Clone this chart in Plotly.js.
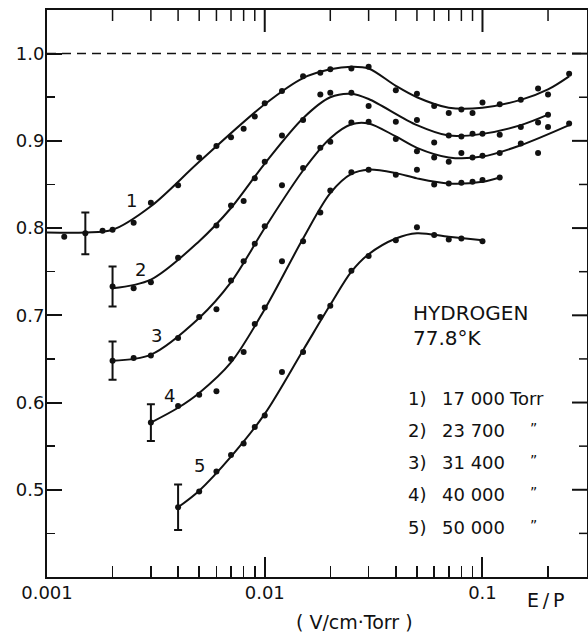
<!DOCTYPE html>
<html>
<head>
<meta charset="utf-8">
<script src="https://cdn.plot.ly/plotly-3.0.1.min.js"></script>
<style>html,body{margin:0;padding:0;background:#fff;}#chart{width:588px;height:637px;}</style>
</head>
<body>
<div id="chart"></div>
<script>
// ---- measured points (dots) ----
const x1 = [0.0012, 0.0018, 0.002, 0.0025, 0.003, 0.004, 0.005, 0.006, 0.007, 0.008, 0.009, 0.01, 0.012, 0.015, 0.018, 0.02, 0.025, 0.03, 0.04, 0.05, 0.06, 0.07, 0.08, 0.09, 0.1, 0.12, 0.15, 0.18, 0.2, 0.25];
const y1 = [0.790, 0.797, 0.798, 0.806, 0.829, 0.849, 0.881, 0.894, 0.904, 0.914, 0.928, 0.943, 0.957, 0.974, 0.978, 0.982, 0.983, 0.985, 0.958, 0.954, 0.940, 0.932, 0.936, 0.932, 0.944, 0.942, 0.947, 0.960, 0.953, 0.977];

const x2 = [0.0025, 0.003, 0.004, 0.006, 0.007, 0.008, 0.009, 0.01, 0.012, 0.015, 0.018, 0.02, 0.025, 0.03, 0.04, 0.05, 0.06, 0.07, 0.08, 0.09, 0.1, 0.12, 0.15, 0.18, 0.2, 0.2];
const y2 = [0.731, 0.738, 0.766, 0.803, 0.826, 0.831, 0.857, 0.876, 0.906, 0.924, 0.953, 0.955, 0.955, 0.940, 0.922, 0.924, 0.898, 0.906, 0.905, 0.908, 0.908, 0.907, 0.916, 0.921, 0.930, 0.916];

const x3 = [0.0025, 0.003, 0.004, 0.005, 0.006, 0.007, 0.008, 0.009, 0.01, 0.012, 0.015, 0.018, 0.02, 0.025, 0.03, 0.04, 0.05, 0.06, 0.07, 0.08, 0.09, 0.1, 0.12, 0.15, 0.18, 0.25];
const y3 = [0.651, 0.654, 0.674, 0.698, 0.707, 0.740, 0.762, 0.782, 0.802, 0.849, 0.869, 0.892, 0.899, 0.921, 0.922, 0.902, 0.888, 0.881, 0.876, 0.886, 0.881, 0.883, 0.886, 0.897, 0.886, 0.920];

const x4 = [0.004, 0.005, 0.006, 0.007, 0.008, 0.009, 0.01, 0.012, 0.015, 0.018, 0.02, 0.025, 0.03, 0.04, 0.05, 0.06, 0.07, 0.08, 0.09, 0.1, 0.12];
const y4 = [0.596, 0.609, 0.613, 0.650, 0.658, 0.690, 0.709, 0.762, 0.785, 0.818, 0.843, 0.864, 0.867, 0.861, 0.867, 0.850, 0.851, 0.852, 0.853, 0.855, 0.858];

const x5 = [0.005, 0.006, 0.007, 0.008, 0.009, 0.01, 0.012, 0.015, 0.018, 0.02, 0.025, 0.03, 0.04, 0.05, 0.06, 0.07, 0.08, 0.1];
const y5 = [0.498, 0.521, 0.540, 0.553, 0.572, 0.585, 0.635, 0.658, 0.698, 0.711, 0.751, 0.768, 0.786, 0.801, 0.792, 0.787, 0.788, 0.785];

// ---- starting points with error bars ----
const errX = [0.0015, 0.002, 0.002, 0.003, 0.004];
const errY = [0.794, 0.733, 0.648, 0.577, 0.480];
const errSize = [0.024, 0.023, 0.022, 0.021, 0.026];

// ---- smooth fitted curves ----
const f1x = [0.001, 0.0015, 0.002, 0.003, 0.005, 0.01, 0.015, 0.02, 0.025, 0.03, 0.04, 0.05, 0.07, 0.1, 0.15, 0.2, 0.25];
const f1y = [0.795, 0.795, 0.798, 0.825, 0.876, 0.942, 0.972, 0.982, 0.985, 0.983, 0.963, 0.950, 0.938, 0.938, 0.947, 0.959, 0.974];
const f2x = [0.002, 0.003, 0.005, 0.007, 0.01, 0.015, 0.02, 0.025, 0.03, 0.05, 0.07, 0.1, 0.15, 0.2];
const f2y = [0.731, 0.741, 0.785, 0.823, 0.874, 0.926, 0.950, 0.954, 0.948, 0.918, 0.906, 0.908, 0.918, 0.930];
const f3x = [0.002, 0.003, 0.005, 0.007, 0.01, 0.015, 0.02, 0.025, 0.03, 0.04, 0.05, 0.07, 0.1, 0.15, 0.25];
const f3y = [0.648, 0.655, 0.697, 0.738, 0.800, 0.866, 0.903, 0.919, 0.920, 0.905, 0.892, 0.881, 0.882, 0.895, 0.918];
const f4x = [0.003, 0.004, 0.005, 0.007, 0.01, 0.015, 0.02, 0.025, 0.03, 0.04, 0.05, 0.07, 0.1, 0.12];
const f4y = [0.577, 0.594, 0.611, 0.646, 0.707, 0.788, 0.840, 0.862, 0.867, 0.863, 0.857, 0.851, 0.853, 0.858];
const f5x = [0.004, 0.005, 0.007, 0.01, 0.015, 0.02, 0.025, 0.03, 0.04, 0.05, 0.07, 0.1];
const f5y = [0.480, 0.499, 0.538, 0.587, 0.660, 0.712, 0.750, 0.770, 0.788, 0.794, 0.790, 0.786];

// ---- curve labels ----
const curveLabels = ["1", "2", "3", "4", "5"];
const curveLabelX = [0.00245, 0.00269, 0.00319, 0.00366, 0.00502];
const curveLabelY = [0.832, 0.753, 0.677, 0.608, 0.528];

// ---- axes / ticks ----
const xRange = [0.001, 0.302];
const yRange = [0.4, 1.05];
const xTickVals = [0.001, 0.01, 0.1];
const xTickText = ["0.001", "0.01", "0.1"];
const xMinorVals = [0.002, 0.003, 0.004, 0.005, 0.006, 0.007, 0.008, 0.009, 0.02, 0.03, 0.04, 0.05, 0.06, 0.07, 0.08, 0.09, 0.2];
const yTickVals = [0.5, 0.6, 0.7, 0.8, 0.9, 1.0];
const yMinorVals = [0.45, 0.55, 0.65, 0.75, 0.85, 0.95];
const refLevel = 1.0;

// ---- legend text ----
const gasName = "HYDROGEN";
const gasTemp = "77.8°K";
const legendIdx = ["1)", "2)", "3)", "4)", "5)"];
const legendPressure = ["17 000", "23 700", "31 400", "40 000", "50 000"];
const legendUnit = ["Torr", "\u201D", "\u201D", "\u201D", "\u201D"];

const FONT = "'DejaVu Sans', 'Liberation Sans', sans-serif";
const INK = "#111111";

const W = 588, H = 637;
const M = {l: 47, r: 1, t: 10, b: 60};
const plotW = W - M.l - M.r, plotH = H - M.t - M.b;
const logRange = [Math.log10(xRange[0]), Math.log10(xRange[1])];
const yPerPx = (yRange[1] - yRange[0]) / plotH;
const decPerPx = (logRange[1] - logRange[0]) / plotW;

const dotStyle = {size: 6, color: INK};
const lineStyle = {color: INK, width: 2, shape: 'spline', smoothing: 0.9};

const fits = [[f1x,f1y],[f2x,f2y],[f3x,f3y],[f4x,f4y],[f5x,f5y]];
const dots = [[x1,y1],[x2,y2],[x3,y3],[x4,y4],[x5,y5]];

const traces = [];
fits.forEach(f => traces.push({x: f[0], y: f[1], mode: 'lines', line: lineStyle, hoverinfo: 'skip'}));
dots.forEach(d => traces.push({x: d[0], y: d[1], mode: 'markers', marker: dotStyle}));
traces.push({
  x: errX, y: errY, mode: 'markers', marker: dotStyle,
  error_y: {type: 'data', array: errSize, visible: true, color: INK, thickness: 2, width: 4}
});

// mirrored tick marks on the top and right frame (axis decoration built from the tick arrays)
function topTicks(vals, lenPx, width){
  const xs = [], ys = [];
  vals.forEach(v => { xs.push(v, v, null); ys.push(yRange[1], yRange[1] - lenPx * yPerPx, null); });
  return {x: xs, y: ys, mode: 'lines', line: {color: INK, width: width}, hoverinfo: 'skip', cliponaxis: false};
}
function rightTicks(vals, lenPx, width){
  const xs = [], ys = [];
  const inner = Math.pow(10, logRange[1] - lenPx * decPerPx);
  vals.forEach(v => { xs.push(xRange[1], inner, null); ys.push(v, v, null); });
  return {x: xs, y: ys, mode: 'lines', line: {color: INK, width: width}, hoverinfo: 'skip', cliponaxis: false};
}
traces.push(topTicks(xTickVals.slice(1), 22, 2));
traces.push(topTicks(xMinorVals, 11, 1.5));
traces.push(rightTicks(yTickVals, 15, 2));
traces.push(rightTicks(yMinorVals, 8, 1.5));

const annotations = [];
curveLabels.forEach((t, i) => annotations.push({
  x: Math.log10(curveLabelX[i]), y: curveLabelY[i], xref: 'x', yref: 'y', text: t,
  showarrow: false, xanchor: 'center', yanchor: 'middle', font: {family: FONT, size: 18, color: INK}
}));

function pxX(px){ return (px - M.l) / plotW; }
function pxY(py){ return (H - M.b - py) / plotH; }
function note(px, py, text, size, anchor){
  annotations.push({x: pxX(px), y: pxY(py), xref: 'paper', yref: 'paper', text: text, showarrow: false,
    xanchor: anchor || 'left', yanchor: 'middle', font: {family: FONT, size: size, color: INK}});
}

note(411, 313, gasName, 20);
note(411, 338, gasTemp, 20);
const legRows = [398, 430, 462, 494, 527];
legendIdx.forEach((t, i) => {
  note(406, legRows[i], t, 18);
  note(440, legRows[i], legendPressure[i], 18);
  if (i === 0) note(507, legRows[i], legendUnit[i], 18);
  else note(533, legRows[i] - 2, legendUnit[i], 14, 'center');
});
note(545, 600, "E\u2009/\u2009P", 19, 'center');
note(354, 622, "( V/cm·Torr )", 19, 'center');

const layout = {
  width: W, height: H,
  margin: M,
  paper_bgcolor: '#ffffff', plot_bgcolor: '#ffffff',
  showlegend: false,
  font: {family: FONT, size: 17, color: INK},
  xaxis: {
    type: 'log', range: logRange,
    showgrid: false, zeroline: false,
    showline: true, linecolor: INK, linewidth: 2, mirror: true,
    ticks: 'inside', ticklen: 20, tickwidth: 2, tickcolor: INK,
    tickmode: 'array', tickvals: xTickVals, ticktext: xTickText,
    ticklabelstandoff: -2,
    tickfont: {family: FONT, size: 18, color: INK},
    minor: {tickmode: 'array', tickvals: xMinorVals, ticks: 'inside', ticklen: 11, tickwidth: 1.5, tickcolor: INK, showgrid: false}
  },
  yaxis: {
    range: yRange,
    showgrid: false, zeroline: false,
    showline: true, linecolor: INK, linewidth: 2, mirror: true,
    ticks: 'inside', ticklen: 15, tickwidth: 2, tickcolor: INK,
    tickmode: 'array', tickvals: yTickVals, ticktext: yTickVals.map(v => v.toFixed(1)),
    ticklabelstandoff: -3,
    tickfont: {family: FONT, size: 18, color: INK},
    minor: {tickmode: 'array', tickvals: yMinorVals, ticks: 'inside', ticklen: 8, tickwidth: 1.5, tickcolor: INK, showgrid: false}
  },
  shapes: [{
    type: 'line', xref: 'paper', yref: 'y', x0: 0, x1: 1, y0: refLevel, y1: refLevel,
    line: {color: INK, width: 1.5, dash: '9px,6px'}
  }],
  annotations: annotations
};

Plotly.newPlot('chart', traces, layout, {displayModeBar: false, staticPlot: true});
</script>
</body>
</html>
